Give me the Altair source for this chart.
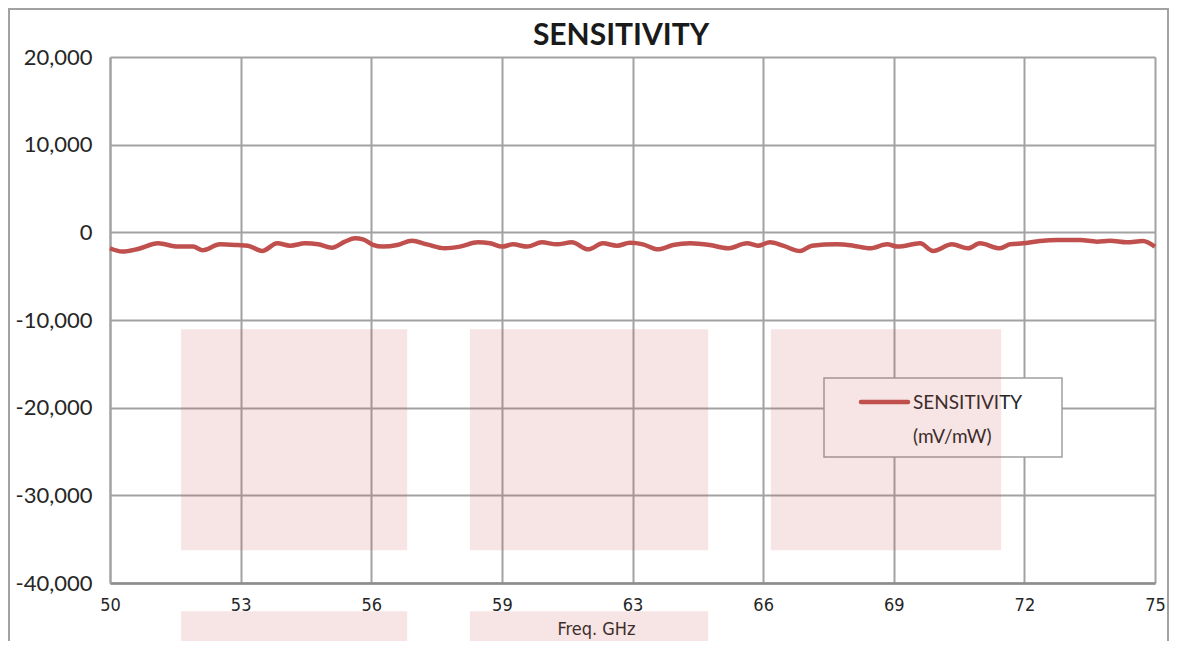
import altair as alt
import pandas as pd

# ---- data ----
freq_ghz = [50.00, 50.29, 50.67, 51.15, 51.63, 51.99, 52.22, 52.63, 53.06, 53.30,
            53.64, 54.00, 54.31, 54.67, 54.98, 55.31, 55.62, 55.86, 56.05, 56.29,
            56.53, 56.87, 57.22, 57.58, 58.01, 58.37, 58.80, 59.09, 59.38, 59.64,
            59.98, 60.33, 60.69, 61.05, 61.44, 61.79, 62.13, 62.44, 62.75, 63.11,
            63.47, 63.88, 64.35, 64.78, 65.24, 65.50, 65.79, 66.10, 66.51, 66.79,
            67.39, 67.78, 68.18, 68.59, 68.85, 69.38, 69.69, 70.14, 70.53, 70.81,
            71.29, 71.53, 71.84, 72.25, 72.66, 73.21, 73.61, 73.92, 74.33, 74.71,
            75.00]
sensitivity = [-1820, -2200, -1900, -1250, -1630, -1630, -2050, -1370, -1450, -1520,
               -2130, -1250, -1520, -1250, -1370, -1750, -1060, -680, -800, -1420,
               -1630, -1450, -950, -1370, -1820, -1630, -1140, -1250, -1630, -1370,
               -1630, -1140, -1370, -1140, -1940, -1250, -1520, -1200, -1370, -1940,
               -1450, -1250, -1450, -1820, -1250, -1520, -1140, -1520, -2130, -1520,
               -1370, -1520, -1820, -1370, -1630, -1250, -2130, -1370, -1820, -1250,
               -1820, -1370, -1250, -990, -880, -880, -1060, -950, -1140, -990,
               -1630]

x_ticks = [50, 53.125, 56.25, 59.375, 62.5, 65.625, 68.75, 71.875, 75]
y_ticks = [-40000, -30000, -20000, -10000, 0, 10000, 20000]

# faint watermark blocks (GHz / mV/mW)
wm_x0 = [51.70, 58.61, 65.81, 51.70, 58.61]
wm_x1 = [57.11, 64.31, 71.32, 57.11, 64.31]
wm_y0 = [-11060, -11060, -11060, -43220, -43220]
wm_y1 = [-36260, -36260, -36260, -50000, -50000]

title_text = "SENSITIVITY"
x_title = "Freq. GHz"
legend_lines = ["SENSITIVITY", "(mV/mW)"]

LINE = "#C0504D"
GRID = "#A2A2A2"
NARROW = "DejaVu Sans Condensed, Roboto Condensed, Roboto, sans-serif"
W, H = 1045, 526

df = pd.DataFrame({"f": freq_ghz, "s": sensitivity})
wm = pd.DataFrame({"x0": wm_x0, "x1": wm_x1, "y0": wm_y0, "y1": wm_y1})
one = pd.DataFrame({"a": [0]})

xs = alt.Scale(domain=[50, 75], nice=False, zero=False)
ys = alt.Scale(domain=[-40000, 20000], nice=False, zero=False)

x_axis = alt.Axis(
    values=x_ticks, labelExpr="format(datum.value, '.0f')", title=x_title,
    grid=True, gridColor=GRID, gridWidth=2,
    ticks=False, labelPadding=22, labelBaseline="middle",
    labelFont=NARROW, labelFontSize=18, labelColor="#262626",
    domainColor="#8C8C8C", domainWidth=2.5,
    titleFont=NARROW, titleFontSize=18, titleFontWeight="normal",
    titleColor="#262626", titleX=486, titleY=46, titleBaseline="middle",
    titleAlign="center", labelFlush=False)
y_axis = alt.Axis(
    values=y_ticks,
    labelExpr="datum.value < 0 ? '-' + format(-datum.value, ',.0f') : format(datum.value, ',.0f')",
    title=None, grid=True, gridColor=GRID, gridWidth=2,
    ticks=False, labelPadding=18, labelFont="Lato", labelFontSize=22,
    labelColor="#262626", domainColor=GRID, domainWidth=2)

line = alt.Chart(df).mark_line(color=LINE, strokeWidth=4.5, interpolate="monotone").encode(
    x=alt.X("f:Q", scale=xs, axis=x_axis),
    y=alt.Y("s:Q", scale=ys, axis=y_axis),
)

legend_box = alt.Chart(one).mark_rect(fill="white", stroke="#A0A0A0", strokeWidth=1.5).encode(
    x=alt.value(714), x2=alt.value(952), y=alt.value(321), y2=alt.value(400))
legend_line = alt.Chart(one).mark_rule(color=LINE, strokeWidth=4.5, strokeCap="round").encode(
    x=alt.value(751), x2=alt.value(798), y=alt.value(345))
legend_t1 = alt.Chart(one).mark_text(text=legend_lines[0], align="left", baseline="middle",
                                     font="Lato", fontSize=19, color="#262626").encode(
    x=alt.value(803), y=alt.value(346))
legend_t2 = alt.Chart(one).mark_text(text=legend_lines[1], align="left", baseline="middle",
                                     font="Lato", fontSize=19, color="#262626").encode(
    x=alt.value(803), y=alt.value(380))

title_mark = alt.Chart(one).mark_text(text=title_text, align="center", baseline="alphabetic",
                                      font="Lato", fontSize=30, fontWeight="bold",
                                      color="#1a1a1a").encode(
    x=alt.value(511), y=alt.value(-12))

marks = alt.Chart(wm).mark_rect(color=LINE, opacity=0.15).encode(
    x=alt.X("x0:Q", scale=xs, axis=x_axis), x2="x1:Q",
    y=alt.Y("y0:Q", scale=ys, axis=y_axis), y2="y1:Q")

border = alt.Chart(one).mark_rect(fillOpacity=0, stroke=GRID, strokeWidth=2).encode(
    x=alt.value(-101), x2=alt.value(1058), y=alt.value(-48), y2=alt.value(700))

chart = alt.layer(line, legend_box, legend_line, legend_t1, legend_t2, marks,
                  title_mark, border).properties(
    width=W, height=H,
    autosize=alt.AutoSizeParams(type="none"),
    padding={"left": 102, "top": 49, "right": 14, "bottom": 58},
).configure_view(stroke=GRID, strokeWidth=2).configure(background="white")

chart.save("out.html", embed_options={"renderer": "svg", "actions": False})
